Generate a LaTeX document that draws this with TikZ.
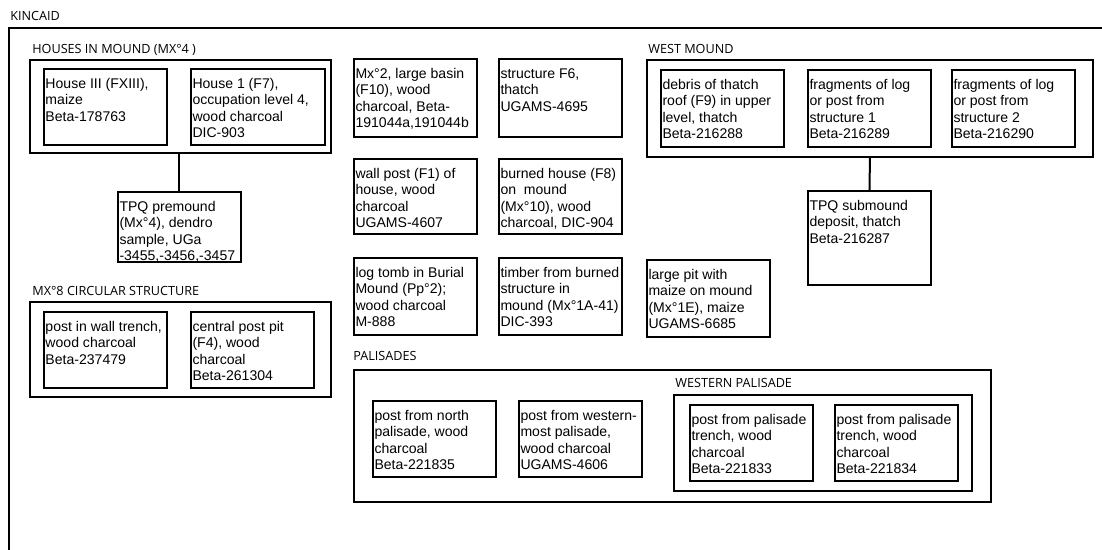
\documentclass[tikz,border=0pt]{standalone}
\usepackage{fontspec}
\setmainfont{Liberation Sans}
\newfontfamily\hdrfont{Open Sans}
\exhyphenpenalty=10000
\hyphenpenalty=10000

\begin{document}
\begin{tikzpicture}[
    x=0.02cm, y=-0.02cm,
    cell/.style={draw, line width=0.04cm, anchor=north west, inner xsep=0.03cm, inner ysep=0.04cm,
        text width=2.40cm, align=flush left, text height=0.34cm, text depth=#1,
        font=\fontsize{8}{9.4}\selectfont},
    cell/.default=1.1cm,
    grp/.style={draw, line width=0.04cm, anchor=north west, inner sep=0pt},
    hdr/.style={anchor=base west, inner sep=0pt, font=\hdrfont\fontsize{7.2}{8}\selectfont},
    link/.style={line width=0.04cm},
]
\useasboundingbox (0,0) rectangle (1102,549);
\clip (0,0) rectangle (1102,549);

% Site frame
\node[hdr] (kincaid) at (10,20.7) {KINCAID};
\draw[link] (9,560) -- (9,27.5) -- (1110,27.5);

% Houses in mound
\node[hdr] (housesLbl) at (32,53.3) {HOUSES IN MOUND (MX°4 )};
\node[grp, minimum width=6.02cm, minimum height=1.86cm] (houses) at (29,59) {};
\node[cell] (house3) at (43,68) {House III (FXIII),\\ maize\\ Beta-178763};
\node[cell, text width=2.62cm] (house1) at (190,68) {House 1 (F7),\\ occupation level 4,\\ wood charcoal\\ DIC-903};
\node[cell=0.98cm] (tpqpre) at (117,191) {TPQ premound\\ (Mx°4), dendro\\ sample, UGa\\ -3455,-3456,-3457};

% Mx 8 circular structure
\node[hdr] (circLbl) at (32,295) {MX°8 CIRCULAR STRUCTURE};
\node[grp, minimum width=6.02cm, minimum height=1.90cm] (circ) at (29,301) {};
\node[cell] (wallTrench) at (43,311) {post in wall trench,\\ wood charcoal\\ Beta-237479};
\node[cell] (centralPit) at (190,311) {central post pit\\ (F4), wood\\ charcoal\\ Beta-261304};

% Single samples
\node[cell=1.14cm] (basin) at (353,58) {Mx°2, large basin\\ (F10), wood\\ charcoal, Beta-\\ 191044a,191044b};
\node[cell=1.14cm] (f6) at (498,58) {structure F6,\\ thatch\\ UGAMS-4695};
\node[cell=1.08cm] (wallPost) at (353,158) {wall post (F1) of\\ house, wood\\ charcoal\\ UGAMS-4607};
\node[cell=1.08cm] (burned) at (498,158) {burned house (F8)\\ on\ \ mound\\ (Mx°10), wood\\ charcoal, DIC-904};
\node[cell=1.12cm] (logTomb) at (353,257) {log tomb in Burial\\ Mound (Pp°2);\\ wood charcoal\\ M-888};
\node[cell=1.12cm] (timber) at (498,257) {timber from burned\\ structure in\\ mound (Mx°1A-41)\\ DIC-393};
\node[cell=1.12cm] (pit) at (646,259) {large pit with\\ maize on mound\\ (Mx°1E), maize\\ UGAMS-6685};

% West mound
\node[hdr] (westLbl) at (648,53.3) {WEST MOUND};
\node[grp, minimum width=8.92cm, minimum height=1.94cm] (westmound) at (646,59) {};
\node[cell=1.12cm] (debris) at (660,69) {debris of thatch\\ roof (F9) in upper\\ level, thatch\\ Beta-216288};
\node[cell=1.12cm] (frag1) at (807,69) {fragments of log\\ or post from\\ structure 1\\ Beta-216289};
\node[cell=1.12cm] (frag2) at (951,69) {fragments of log\\ or post from\\ structure 2\\ Beta-216290};
\node[cell=1.46cm] (tpqsub) at (807,190) {TPQ submound\\ deposit, thatch\\ Beta-216287};

% Palisades
\node[hdr] (palLbl) at (353,360.7) {PALISADES};
\node[grp, minimum width=12.74cm, minimum height=2.64cm] (palisades) at (353,369) {};
\node[cell] (postNorth) at (372,400) {post from north\\ palisade, wood\\ charcoal\\ Beta-221835};
\node[cell] (postWest) at (518,400) {post from western-\\ most palisade,\\ wood charcoal\\ UGAMS-4606};
\node[hdr] (westPalLbl) at (675,387.3) {WESTERN PALISADE};
\node[grp, minimum width=5.96cm, minimum height=1.92cm] (westpal) at (673,394) {};
\node[cell] (trench1) at (689,404) {post from palisade\\ trench, wood\\ charcoal\\ Beta-221833};
\node[cell] (trench2) at (834,404) {post from palisade\\ trench, wood\\ charcoal\\ Beta-221834};

% Links
\draw[link] (tpqpre.north |- houses.south) -- (tpqpre.north);
\draw[link] (westmound.south) -- (tpqsub.north);
\end{tikzpicture}
\end{document}
